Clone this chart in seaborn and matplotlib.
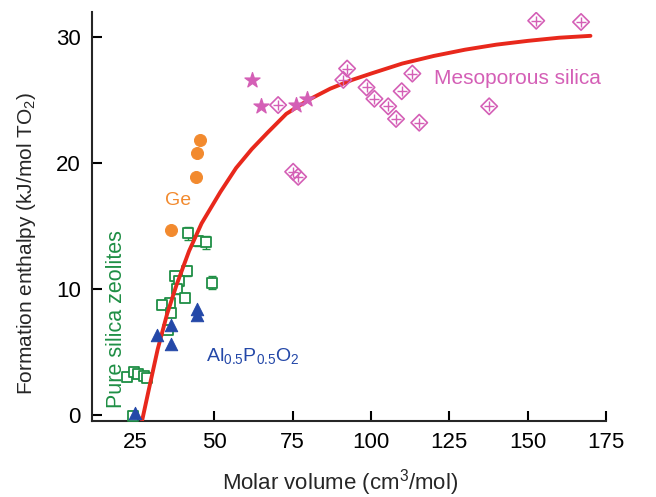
import numpy as np
import pandas as pd
import seaborn as sns
from matplotlib import pyplot as plt

# pure silica zeolites (hollow squares with error bars)
zeo_x = [41.6, 44.8, 47.3, 41.3, 37.4, 38.7, 38.1, 40.6, 35.9, 33.3, 49.3, 36.2, 35.2,
         22.1, 24.4, 25.6, 27.6, 28.5, 24.0]
zeo_y = [14.4, 13.8, 13.7, 11.4, 11.0, 10.6, 10.0, 9.3, 8.9, 8.7, 10.5, 8.1, 6.7,
         3.0, 3.4, 3.2, 3.1, 2.9, -0.1]
zeo_err = [0.5, 0.4, 0.5, 0.4, 0.4, 0.4, 0.4, 0.3, 0.3, 0.3, 0.5, 0.3, 0.3,
           0.3, 0.3, 0.3, 0.3, 0.3, 0.2]

# AlPO4 (filled triangles)
alpo_x = [24.7, 31.9, 36.4, 36.4, 44.4, 44.4]
alpo_y = [0.1, 6.3, 7.1, 5.6, 8.4, 7.9]

# germanates (filled circles)
ge_x = [45.4, 44.6, 44.1, 36.2]
ge_y = [21.8, 20.8, 18.9, 14.7]

# mesoporous silica
meso_star_x = [62.1, 65.1, 76.1, 79.7]
meso_star_y = [26.6, 24.5, 24.6, 25.1]
meso_dia_x = [70.4, 92.4, 91.2, 98.6, 101.1, 105.5, 108.0, 113.2, 109.8, 115.4,
              137.7, 152.7, 167.0, 75.2, 76.8]
meso_dia_y = [24.6, 27.5, 26.6, 26.0, 25.1, 24.5, 23.5, 27.1, 25.7, 23.2,
              24.5, 31.3, 31.2, 19.3, 18.9]

# trend curve
fit_x = [27, 29, 32, 35, 38, 42, 46, 52, 57, 62, 67, 73, 80, 87, 94, 100,
         110, 120, 130, 140, 150, 160, 170]
fit_y = [-0.5, 1.8, 5.2, 8.0, 10.3, 13.0, 15.2, 17.7, 19.6, 21.1, 22.4, 23.9, 25.0,
         25.9, 26.6, 27.1, 27.9, 28.5, 29.0, 29.4, 29.7, 29.95, 30.1]

C_ZEO = "#1f8f45"
C_ALPO = "#2448a8"
C_GE = "#f28a2e"
C_MESO = "#d45fb6"
C_FIT = "#e8281c"

sns.set_style("ticks")
plt.rcParams["font.family"] = ["Liberation Sans", "DejaVu Sans"]
plt.rcParams["mathtext.fontset"] = "custom"
plt.rcParams["mathtext.rm"] = "Liberation Sans"
plt.rcParams["mathtext.it"] = "Liberation Sans:italic"
plt.rcParams["mathtext.default"] = "regular"

fig = plt.figure(figsize=(6.56, 4.97), dpi=100)
ax = fig.add_axes([0.140, 0.153, 0.784, 0.823])

fit = pd.DataFrame({"x": fit_x, "y": fit_y})
sns.lineplot(data=fit, x="x", y="y", color=C_FIT, linewidth=2.8, ax=ax, zorder=5,
             sort=False)

ax.errorbar(zeo_x, zeo_y, yerr=zeo_err, fmt="none", ecolor=C_ZEO, elinewidth=1.0,
            capsize=3, capthick=1.0, zorder=3)
zeo = pd.DataFrame({"x": zeo_x, "y": zeo_y})
sns.scatterplot(data=zeo, x="x", y="y", marker="s", s=55, facecolor="white",
                edgecolor=C_ZEO, linewidth=1.3, ax=ax, zorder=4)

alpo = pd.DataFrame({"x": alpo_x, "y": alpo_y})
sns.scatterplot(data=alpo, x="x", y="y", marker="^", s=80, color=C_ALPO,
                edgecolor=C_ALPO, ax=ax, zorder=6)

ge = pd.DataFrame({"x": ge_x, "y": ge_y})
sns.scatterplot(data=ge, x="x", y="y", marker="o", s=75, color=C_GE,
                edgecolor=C_GE, ax=ax, zorder=6)

ms = pd.DataFrame({"x": meso_star_x, "y": meso_star_y})
sns.scatterplot(data=ms, x="x", y="y", marker="*", s=130, color=C_MESO,
                edgecolor=C_MESO, ax=ax, zorder=6)

md = pd.DataFrame({"x": meso_dia_x, "y": meso_dia_y})
sns.scatterplot(data=md, x="x", y="y", marker="D", s=70, facecolor="none",
                edgecolor=C_MESO, linewidth=1.2, ax=ax, zorder=6)
sns.scatterplot(data=md, x="x", y="y", marker="+", s=55, color=C_MESO,
                linewidth=1.0, ax=ax, zorder=6)

ax.text(34.3, 17.0, "Ge", color=C_GE, fontsize=14, ha="left", va="center")
ax.text(18.9, 0.5, "Pure silica zeolites", color=C_ZEO, fontsize=15.5,
        rotation=90, ha="center", va="bottom")
ax.text(47.5, 4.7, r"Al$_{0.5}$P$_{0.5}$O$_2$", color=C_ALPO, fontsize=14,
        ha="left", va="center")
ax.text(120.2, 26.7, "Mesoporous silica", color=C_MESO, fontsize=15,
        ha="left", va="center")

ax.set_xlim(11, 175)
ax.set_ylim(-0.5, 32)
ax.set_xticks([25, 50, 75, 100, 125, 150, 175])
ax.set_yticks([0, 10, 20, 30])
ax.tick_params(direction="in", length=7, width=1.5, labelsize=16, pad=8, colors="black")
sns.despine(ax=ax)
for s in ["left", "bottom"]:
    ax.spines[s].set_linewidth(1.5)
ax.set_xlabel(r"Molar volume (cm$^3$/mol)", fontsize=16)
ax.set_ylabel(r"Formation enthalpy (kJ/mol TO$_2$)", fontsize=15)
ax.xaxis.set_label_coords(0.482, -0.112)
ax.yaxis.set_label_coords(-0.105, 0.435)

fig.savefig("out.png", dpi=100)
